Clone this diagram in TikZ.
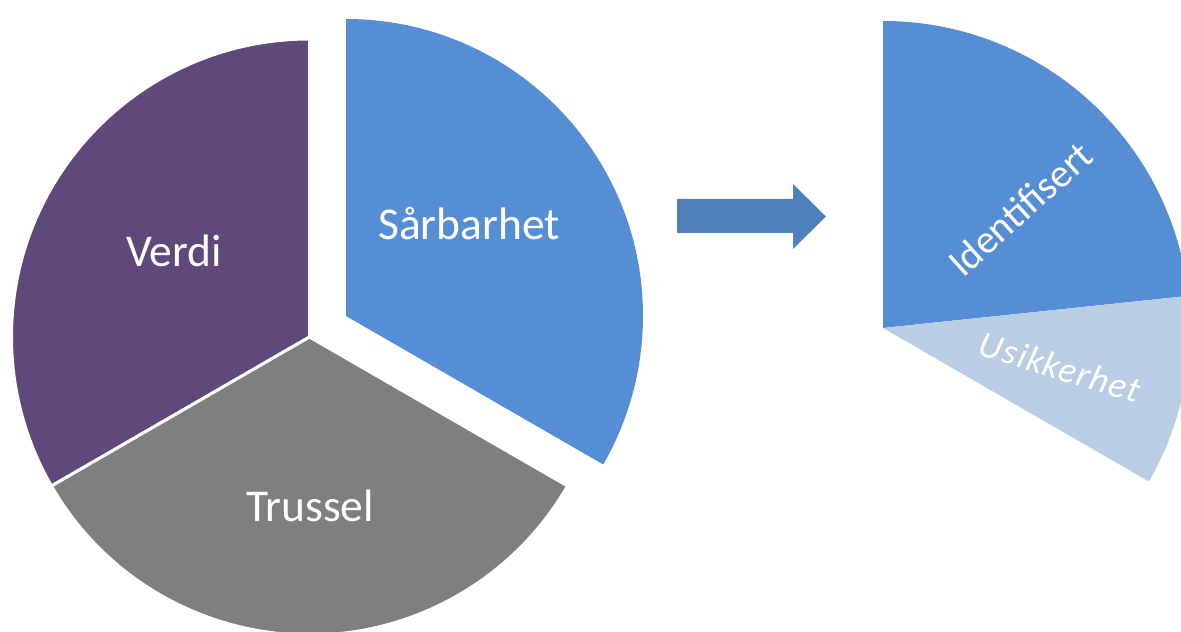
\documentclass[tikz,border=0pt]{standalone}
\usepackage{fontspec}
\setmainfont{Carlito}
\newfontfamily\spacedfont[LetterSpace=3]{Carlito}
\definecolor{valuepurple}{HTML}{5F497A}
\definecolor{sliceblue}{HTML}{558ED5}
\definecolor{slicegray}{HTML}{7F7F7F}
\definecolor{paleblue}{HTML}{B9CDE5}
\definecolor{arrowblue}{HTML}{4F81BD}
\tikzset{
  slicelabel/.style={text=white, font=\fontsize{45.5}{50}\selectfont, inner sep=0pt},
  sublabel/.style={text=white, inner sep=0pt},
  gapline/.style={draw=white, line width=3pt, line join=miter}
}
\begin{document}
\begin{tikzpicture}[x=1pt,y=1pt]
\useasboundingbox (0,0) rectangle (1181,632);
\clip (0,0) rectangle (1181,632);

% left pie: two slices share a centre, the third is pulled out
\coordinate (pc) at (309.5,295);
\coordinate (bc) at (346,316);
\fill[valuepurple, gapline] (pc) -- ++(90:298) arc[start angle=90, end angle=210, radius=298] -- cycle;
\fill[slicegray, gapline] (pc) -- ++(210:298) arc[start angle=210, end angle=330, radius=298] -- cycle;
\fill[sliceblue] (bc) -- ++(90:297) arc[start angle=90, end angle=-30, radius=297] -- cycle;

\node[slicelabel, anchor=base] (verdi) at (174,365) {Verdi};
\node[slicelabel, anchor=base] (sarbarhet) at (469,392) {Sårbarhet};
\node[slicelabel, anchor=base] (trussel) at (310,110) {Trussel};

% block arrow
\fill[arrowblue] (677,433) -- (793,433) -- (793,448) -- (826,415.5)
  -- (793,383) -- (793,399) -- (677,399) -- cycle;

% right: the vulnerability slice split in two
\coordinate (rc) at (883,304);
\fill[sliceblue] (rc) -- ++(90:307) arc[start angle=90, end angle=6, radius=307] -- cycle;
\fill[paleblue] (rc) -- ++(6:307) arc[start angle=6, end angle=-30, radius=307] -- cycle;

\node[sublabel, rotate=42, font=\fontsize{40}{46}\selectfont] (ident) at (1020,423) {Identifisert};
\node[sublabel, rotate=-17, font=\spacedfont\itshape\fontsize{36.5}{40}\selectfont] (usikk) at (1060,265) {Usikkerhet};
\end{tikzpicture}
\end{document}
